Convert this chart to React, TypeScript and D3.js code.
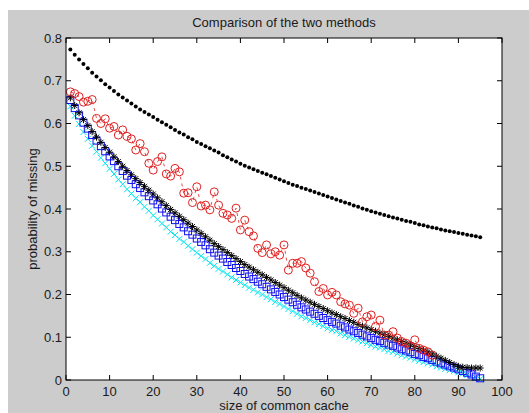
import React from 'react'
import * as d3 from 'd3'

// cache sizes on the x axis (1..95), one point per size
const cacheSize = d3.range(1, 96)

// black '.' series (top curve)
const dotSeries = [
  0.773, 0.761, 0.750, 0.739, 0.729, 0.719, 0.710, 0.701, 0.692, 0.684,
  0.676, 0.668, 0.661, 0.654, 0.647, 0.640, 0.633, 0.627, 0.621, 0.615,
  0.609, 0.603, 0.597, 0.591, 0.585, 0.579, 0.574, 0.568, 0.563, 0.557,
  0.552, 0.547, 0.542, 0.537, 0.532, 0.526, 0.521, 0.516, 0.511, 0.506,
  0.501, 0.497, 0.493, 0.489, 0.485, 0.481, 0.477, 0.473, 0.469, 0.465,
  0.461, 0.457, 0.454, 0.450, 0.447, 0.443, 0.440, 0.436, 0.433, 0.429,
  0.426, 0.422, 0.419, 0.415, 0.412, 0.408, 0.405, 0.401, 0.398, 0.395,
  0.392, 0.389, 0.386, 0.383, 0.380, 0.378, 0.375, 0.372, 0.370, 0.367,
  0.364, 0.362, 0.359, 0.357, 0.355, 0.352, 0.350, 0.348, 0.346, 0.344,
  0.342, 0.340, 0.338, 0.336, 0.334,
]

// black '*' series
const starSeries = [
  0.660, 0.642, 0.625, 0.609, 0.595, 0.581, 0.568, 0.556, 0.544, 0.533,
  0.522, 0.511, 0.500, 0.490, 0.480, 0.471, 0.462, 0.453, 0.444, 0.435,
  0.426, 0.417, 0.408, 0.399, 0.391, 0.383, 0.375, 0.367, 0.359, 0.351,
  0.343, 0.335, 0.327, 0.319, 0.312, 0.305, 0.298, 0.291, 0.284, 0.277,
  0.270, 0.264, 0.258, 0.252, 0.246, 0.240, 0.234, 0.228, 0.222, 0.216,
  0.210, 0.204, 0.198, 0.192, 0.187, 0.182, 0.177, 0.172, 0.167, 0.162,
  0.157, 0.153, 0.148, 0.144, 0.139, 0.135, 0.130, 0.126, 0.122, 0.118,
  0.114, 0.110, 0.106, 0.102, 0.098, 0.094, 0.090, 0.086, 0.082, 0.078,
  0.074, 0.070, 0.066, 0.061, 0.056, 0.051, 0.046, 0.041, 0.036, 0.032,
  0.030, 0.029, 0.028, 0.028, 0.028,
]

// blue square series
const squareSeries = [
  0.655, 0.636, 0.619, 0.602, 0.588, 0.573, 0.560, 0.547, 0.535, 0.523,
  0.512, 0.500, 0.489, 0.478, 0.468, 0.458, 0.449, 0.439, 0.430, 0.420,
  0.411, 0.401, 0.392, 0.382, 0.374, 0.365, 0.357, 0.348, 0.340, 0.331,
  0.323, 0.315, 0.306, 0.298, 0.291, 0.284, 0.276, 0.269, 0.262, 0.255,
  0.248, 0.242, 0.236, 0.230, 0.224, 0.218, 0.212, 0.206, 0.200, 0.194,
  0.188, 0.182, 0.176, 0.170, 0.165, 0.160, 0.155, 0.150, 0.145, 0.140,
  0.136, 0.132, 0.127, 0.123, 0.118, 0.114, 0.110, 0.106, 0.102, 0.098,
  0.094, 0.091, 0.087, 0.083, 0.080, 0.076, 0.072, 0.069, 0.065, 0.061,
  0.058, 0.054, 0.051, 0.047, 0.043, 0.039, 0.036, 0.032, 0.029, 0.025,
  0.021, 0.017, 0.013, 0.008, 0.004,
]

// cyan 'x' series
const crossSeries = [
  0.640, 0.618, 0.599, 0.580, 0.564, 0.548, 0.534, 0.520, 0.507, 0.494,
  0.482, 0.469, 0.458, 0.446, 0.436, 0.425, 0.416, 0.405, 0.396, 0.385,
  0.376, 0.366, 0.357, 0.347, 0.339, 0.330, 0.323, 0.314, 0.306, 0.298,
  0.290, 0.283, 0.274, 0.267, 0.260, 0.254, 0.247, 0.240, 0.234, 0.228,
  0.222, 0.216, 0.211, 0.205, 0.200, 0.194, 0.189, 0.183, 0.178, 0.172,
  0.166, 0.161, 0.155, 0.149, 0.145, 0.140, 0.135, 0.131, 0.126, 0.121,
  0.117, 0.114, 0.109, 0.105, 0.101, 0.097, 0.093, 0.090, 0.086, 0.082,
  0.078, 0.076, 0.072, 0.068, 0.066, 0.062, 0.058, 0.055, 0.052, 0.048,
  0.045, 0.042, 0.039, 0.036, 0.032, 0.029, 0.026, 0.023, 0.021, 0.018,
  0.015, 0.012, 0.009, 0.005, 0.002,
]

// red 'o' series (simulated, noisy), sizes 1..84
const circleSeries = [
  0.674, 0.670, 0.663, 0.650, 0.652, 0.656, 0.612, 0.600, 0.611, 0.589,
  0.593, 0.573, 0.585, 0.570, 0.564, 0.538, 0.553, 0.534, 0.507, 0.491,
  0.511, 0.522, 0.482, 0.477, 0.495, 0.487, 0.437, 0.438, 0.415, 0.452,
  0.407, 0.409, 0.398, 0.440, 0.409, 0.390, 0.386, 0.378, 0.402, 0.351,
  0.374, 0.347, 0.337, 0.308, 0.298, 0.316, 0.295, 0.300, 0.292, 0.316,
  0.257, 0.273, 0.273, 0.277, 0.262, 0.250, 0.230, 0.207, 0.214, 0.199,
  0.205, 0.199, 0.183, 0.178, 0.175, 0.156, 0.168, 0.136, 0.148, 0.152,
  0.125, 0.140, 0.105, 0.105, 0.113, 0.098, 0.090, 0.086, 0.080, 0.094,
  0.074, 0.070, 0.066, 0.058,
]

const xTicks = [0, 10, 20, 30, 40, 50, 60, 70, 80, 90, 100]
const yTicks = [0, 0.1, 0.2, 0.3, 0.4, 0.5, 0.6, 0.7, 0.8]
const yTickLabels = ['0', '0.1', '0.2', '0.3', '0.4', '0.5', '0.6', '0.7', '0.8']

const W = 529
const H = 413
const left = 66, right = 502, top = 38, bottom = 380
const font = '"Liberation Sans", Arial, Helvetica, sans-serif'

const App = () => {
  const x = d3.scaleLinear().domain([0, 100]).range([left, right])
  const y = d3.scaleLinear().domain([0, 0.8]).range([bottom, top])

  const circleLine = d3.line<number>()
    .x((d, i) => x(cacheSize[i]))
    .y(d => y(d))

  const star = (cx: number, cy: number) => {
    const r = 3.5, d = 2.5
    return `M${cx - r},${cy}H${cx + r}M${cx},${cy - r}V${cy + r}` +
      `M${cx - d},${cy - d}L${cx + d},${cy + d}M${cx - d},${cy + d}L${cx + d},${cy - d}`
  }
  const cross = (cx: number, cy: number) => {
    const d = 3
    return `M${cx - d},${cy - d}L${cx + d},${cy + d}M${cx - d},${cy + d}L${cx + d},${cy - d}`
  }

  return (
    <svg width={W} height={H} style={{ position: 'absolute', left: 0, top: 0 }}
      fontFamily={font}>
      <rect x={0} y={0} width={W} height={H} fill="#fff" />
      <rect x={8} y={10} width={W - 8} height={H - 10} fill="#cccccc" />
      <rect x={left} y={top} width={right - left} height={bottom - top} fill="#fff" />

      {/* cyan x */}
      <g stroke="#00e5ef" strokeWidth={1} fill="none">
        {crossSeries.map((v, i) => (
          <path key={i} d={cross(x(cacheSize[i]), y(v))} />
        ))}
      </g>
      {/* blue squares */}
      <g stroke="#1010f0" strokeWidth={1} fill="none">
        {squareSeries.map((v, i) => (
          <rect key={i} x={x(cacheSize[i]) - 3.5} y={y(v) - 3.5} width={7} height={7} />
        ))}
      </g>
      {/* black asterisks */}
      <g stroke="#000" strokeWidth={1} fill="none">
        {starSeries.map((v, i) => (
          <path key={i} d={star(x(cacheSize[i]), y(v))} />
        ))}
      </g>
      {/* red circles with dashed line */}
      <path d={circleLine(circleSeries) || ''} fill="none" stroke="#e02020"
        strokeWidth={0.8} strokeDasharray="3,4" />
      <g stroke="#e02020" strokeWidth={1} fill="none">
        {circleSeries.map((v, i) => (
          <circle key={i} cx={x(cacheSize[i])} cy={y(v)} r={4} />
        ))}
      </g>
      {/* black dots */}
      <g fill="#000">
        {dotSeries.map((v, i) => (
          <circle key={i} cx={x(cacheSize[i])} cy={y(v)} r={2} />
        ))}
      </g>

      {/* axes box and ticks */}
      <rect x={left} y={top} width={right - left} height={bottom - top}
        fill="none" stroke="#000" strokeWidth={1} />
      <g stroke="#000" strokeWidth={1}>
        {xTicks.map(t => (
          <g key={t}>
            <line x1={x(t)} x2={x(t)} y1={bottom} y2={bottom - 5} />
            <line x1={x(t)} x2={x(t)} y1={top} y2={top + 5} />
          </g>
        ))}
        {yTicks.map(t => (
          <g key={t}>
            <line x1={left} x2={left + 5} y1={y(t)} y2={y(t)} />
            <line x1={right} x2={right - 5} y1={y(t)} y2={y(t)} />
          </g>
        ))}
      </g>
      <g fontSize={13} fill="#1a1a1a">
        {xTicks.map(t => (
          <text key={t} x={x(t)} y={bottom + 16} textAnchor="middle">{t}</text>
        ))}
        {yTicks.map((t, i) => (
          <text key={t} x={left - 4} y={y(t) + 4.5} textAnchor="end">{yTickLabels[i]}</text>
        ))}
        <text x={(left + right) / 2} y={27} textAnchor="middle">Comparison of the two methods</text>
        <text x={(left + right) / 2} y={410} textAnchor="middle">size of common cache</text>
        <text transform={`translate(37,${(top + bottom) / 2}) rotate(-90)`} textAnchor="middle">
          probability of missing
        </text>
      </g>
    </svg>
  )
}

export default App
